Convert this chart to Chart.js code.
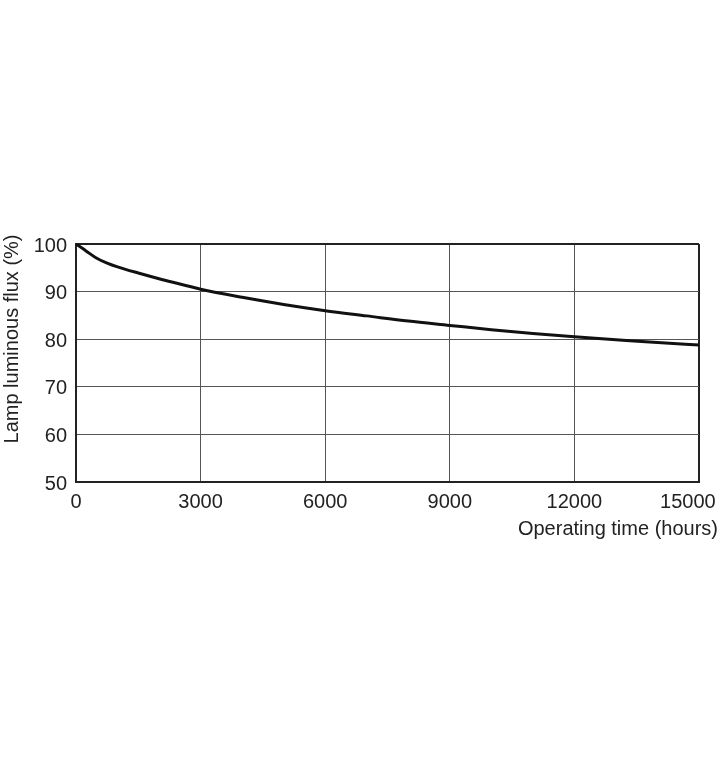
<!DOCTYPE html>
<html>
<head>
<meta charset="utf-8">
<script src="https://cdn.jsdelivr.net/npm/chart.js@4/dist/chart.umd.min.js"></script>
<style>
  html, body { margin: 0; padding: 0; background: #fff; }
  #wrap { width: 720px; height: 780px; }
</style>
</head>
<body>
<div id="wrap"><canvas id="fluxChart"></canvas></div>
<script>
// Curva de flujo luminoso
const hours = [0, 250, 500, 750, 1000, 1500, 2000, 2500, 3000, 4000, 5000, 6000, 7000, 8000, 9000, 10000, 11000, 12000, 13000, 14000, 15000];
const flux = [100, 98.5, 97.0, 96.0, 95.2, 93.9, 92.7, 91.6, 90.5, 88.8, 87.3, 86.0, 84.9, 83.8, 82.9, 82.0, 81.2, 80.5, 79.9, 79.3, 78.8];
const xTicks = [0, 3000, 6000, 9000, 12000, 15000];
const yTicks = [50, 60, 70, 80, 90, 100];
const xTitle = 'Operating time (hours)';
const yTitle = 'Lamp luminous flux (%)';

const FONT = '"Liberation Sans", Arial, sans-serif';

// titulos de ejes dibujados a mano (salen fuera del area)
const axisTitles = {
    id: 'axisTitles',
    afterDraw(chart) {
        const c = chart.ctx;
        c.save();
        c.fillStyle = '#222';
        c.font = '20px ' + FONT;
        c.textAlign = 'right';
        c.textBaseline = 'alphabetic';
        c.fillText(xTitle, 718, 535);
        c.translate(12, 339);
        c.rotate(-Math.PI / 2);
        c.textAlign = 'center';
        c.textBaseline = 'middle';
        c.fillText(yTitle, 0, 0);
        c.restore();
    }
};

const ctx = document.getElementById('fluxChart').getContext('2d');
new Chart(ctx, {
    type: 'line',
    data: {
        datasets: [{
            data: hours.map((h, i) => ({ x: h, y: flux[i] })),
            borderColor: '#111',
            borderWidth: 3,
            pointRadius: 0,
            cubicInterpolationMode: 'monotone',
            fill: false
        }]
    },
    options: {
        responsive: true,
        maintainAspectRatio: false,
        animation: false,
        layout: { padding: { top: 244, right: 21, left: 0, bottom: 0 } },
        plugins: { legend: { display: false }, tooltip: { enabled: false } },
        scales: {
            x: {
                type: 'linear',
                min: xTicks[0],
                max: xTicks[xTicks.length - 1],
                afterBuildTicks: s => { s.ticks = xTicks.map(v => ({ value: v })); },
                afterFit: s => { s.height = 298; s.paddingLeft = 0; s.paddingRight = 0; },
                ticks: {
                    color: '#222',
                    font: { family: FONT, size: 20 },
                    padding: 8,
                    maxRotation: 0,
                    autoSkip: false,
                    callback: v => v === 15000 ? v + '\u2007\u2007' : String(v)
                },
                grid: {
                    drawTicks: false,
                    color: ctx => ctx.tick && ctx.tick.value === 15000 ? '#222' : '#555',
                    lineWidth: ctx => ctx.tick && ctx.tick.value === 15000 ? 2 : 1
                },
                border: { color: '#222', width: 2 }
            },
            y: {
                min: yTicks[0],
                max: yTicks[yTicks.length - 1],
                afterBuildTicks: s => { s.ticks = yTicks.map(v => ({ value: v })); },
                afterFit: s => { s.width = 76; s.paddingTop = 0; s.paddingBottom = 0; },
                ticks: {
                    color: '#222',
                    font: { family: FONT, size: 20 },
                    padding: 9,
                    labelOffset: 2
                },
                grid: {
                    drawTicks: false,
                    color: ctx => ctx.tick && ctx.tick.value === 100 ? '#222' : '#555',
                    lineWidth: ctx => ctx.tick && ctx.tick.value === 100 ? 2 : 1
                },
                border: { color: '#222', width: 2 }
            }
        }
    },
    plugins: [axisTitles]
});
</script>
</body>
</html>
